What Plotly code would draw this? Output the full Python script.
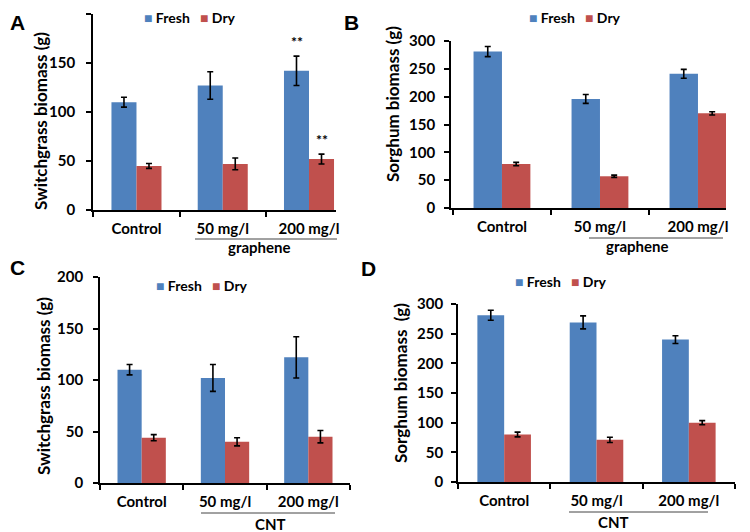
import plotly.graph_objects as go

# the page body adds an 8 px margin, so the figure is drawn 8 px in from
# the window corner; lay everything out in window pixels and convert.
OFF = 8
W, H = 750 - OFF, 532 - OFF

# ---------------- data ----------------
categories = ["Control", "50 mg/l", "200 mg/l"]
series_names = ["Fresh", "Dry"]

# A: switchgrass, graphene
a_fresh = [110, 127, 142]
a_fresh_err = [5, 14, 15]
a_dry = [45, 47, 52]
a_dry_err = [2.5, 6, 5]

# B: sorghum, graphene
b_fresh = [281, 196, 241]
b_fresh_err = [9, 8, 8]
b_dry = [79, 57, 170]
b_dry_err = [3, 2, 3]

# C: switchgrass, CNT
c_fresh = [110, 102, 122]
c_fresh_err = [5, 13, 20]
c_dry = [44, 40, 45]
c_dry_err = [3, 4, 6]

# D: sorghum, CNT
d_fresh = [281, 269, 240]
d_fresh_err = [8.5, 11, 6.5]
d_dry = [80, 71, 100]
d_dry_err = [4, 4.5, 3.5]

y_titles = ["Switchgrass biomass (g)", "Sorghum biomass (g)",
            "Switchgrass biomass (g)", "Sorghum biomass  (g)"]
group_labels = ["graphene", "graphene", "CNT", "CNT"]
panel_letters = ["A", "B", "C", "D"]
# ---------------------------------------

BLUE = "#4F81BD"
RED = "#C0504D"
FONT = "Lato"


def fx(px):
    return (px - OFF) / W


def fy(py):
    return 1 - (py - OFF) / H


# layout geometry for each panel (window pixels)
panels = [
    dict(fresh=a_fresh, fe=a_fresh_err, dry=a_dry, de=a_dry_err,
         xd=(93, 336), yd=(210, 14), xr=[-0.504, 2.313], ymax=200, stand=8,
         ytitle=(40, 121), letter=(8, 23), legend=(142, 17),
         uline=(195, 337, 239), glabel=(259, 247)),
    dict(fresh=b_fresh, fe=b_fresh_err, dry=b_dry, de=b_dry_err,
         xd=(451, 726), yd=(208, 41), xr=[-0.52, 2.286], ymax=300, stand=6,
         ytitle=(393, 104), letter=(342, 23), legend=(527, 17),
         uline=(589, 723, 238), glabel=(637, 246)),
    dict(fresh=c_fresh, fe=c_fresh_err, dry=c_dry, de=c_dry_err,
         xd=(100, 350), yd=(483, 277), xr=[-0.5, 2.5], ymax=200, stand=7,
         ytitle=(43, 386), letter=(8, 267), legend=(154, 285),
         uline=(201, 335, 513), glabel=(270, 524)),
    dict(fresh=d_fresh, fe=d_fresh_err, dry=d_dry, de=d_dry_err,
         xd=(458, 735), yd=(482, 304), xr=[-0.5, 2.5], ymax=300, stand=5,
         ytitle=(400, 383), letter=(359, 268), legend=(513, 281),
         uline=(569, 708, 512), glabel=(613, 522)),
]

fig = go.Figure()
annotations = []
shapes = []
layout_axes = {}

for i, p in enumerate(panels):
    n = "" if i == 0 else str(i + 1)
    xa, ya = "x" + n, "y" + n
    for name, vals, errs, col in [("Fresh", p["fresh"], p["fe"], BLUE),
                                  ("Dry", p["dry"], p["de"], RED)]:
        fig.add_trace(go.Bar(
            x=categories, y=vals, name=name, marker_color=col,
            marker_line_width=0, showlegend=False,
            error_y=dict(type="data", array=errs, color="black",
                         thickness=1.6, width=3),
            xaxis=xa, yaxis=ya, offsetgroup=name,
        ))

    layout_axes["xaxis" + n] = dict(
        domain=[fx(p["xd"][0]), fx(p["xd"][1])], anchor=ya,
        type="category", range=p["xr"], showline=True, linecolor="black",
        linewidth=1.6, ticks="outside", ticklen=5, tickwidth=1.5,
        tickcolor="black", tickson="boundaries", showgrid=False,
        zeroline=False, automargin=False, ticklabelstandoff=4,
        tickfont=dict(family=FONT, size=15, color="black", weight="bold"),
    )
    layout_axes["yaxis" + n] = dict(
        domain=[fy(p["yd"][0]), fy(p["yd"][1])], anchor=xa,
        range=[0, p["ymax"]], dtick=50, showline=True, linecolor="black",
        linewidth=1.6, ticks="outside", ticklen=5, tickwidth=1.5,
        tickcolor="black", showgrid=False, zeroline=False, automargin=False,
        ticklabelstandoff=p["stand"],
        tickfont=dict(family=FONT, size=15, color="black", weight="bold"),
    )

    # y-axis title
    annotations.append(dict(
        text=y_titles[i], x=fx(p["ytitle"][0]), y=fy(p["ytitle"][1]),
        xref="paper", yref="paper", showarrow=False, textangle=-90,
        xanchor="center", yanchor="middle",
        font=dict(family=FONT, size=17, color="black", weight="bold")))
    # panel letter
    annotations.append(dict(
        text=panel_letters[i], x=fx(p["letter"][0]), y=fy(p["letter"][1]),
        xref="paper", yref="paper", showarrow=False,
        xanchor="left", yanchor="middle",
        font=dict(family="Liberation Sans", size=21, color="black",
                  weight="bold")))
    # legend
    annotations.append(dict(
        text=(f"<span style='color:{BLUE}'>■</span> {series_names[0]}   "
              f"<span style='color:{RED}'>■</span> {series_names[1]}"),
        x=fx(p["legend"][0]), y=fy(p["legend"][1]),
        xref="paper", yref="paper", showarrow=False,
        xanchor="left", yanchor="middle",
        font=dict(family=FONT, size=14, color="black", weight="bold")))
    # group underline + label
    shapes.append(dict(
        type="line", xref="paper", yref="paper",
        x0=fx(p["uline"][0]), x1=fx(p["uline"][1]),
        y0=fy(p["uline"][2]), y1=fy(p["uline"][2]),
        line=dict(color="#444444", width=1)))
    annotations.append(dict(
        text=group_labels[i], x=fx(p["glabel"][0]), y=fy(p["glabel"][1]),
        xref="paper", yref="paper", showarrow=False,
        xanchor="center", yanchor="middle",
        font=dict(family=FONT, size=15, color="black", weight="bold")))

# significance marks on panel A (200 mg/l)
bar_half_px = 12.5
for vals, errs, shift in [(a_fresh, a_fresh_err, -bar_half_px),
                          (a_dry, a_dry_err, bar_half_px)]:
    annotations.append(dict(
        text="**", x=categories[2], y=vals[2] + errs[2], xref="x", yref="y",
        showarrow=False, xshift=shift, yshift=15, yanchor="middle",
        font=dict(family=FONT, size=14, color="black", weight="bold")))

fig.update_layout(
    template="none",
    width=W, height=H, margin=dict(l=0, r=0, t=0, b=0, pad=0),
    paper_bgcolor="white", plot_bgcolor="white",
    barmode="group", bargap=0.42, bargroupgap=0,
    annotations=annotations, shapes=shapes, showlegend=False,
    **layout_axes,
)

fig.write_html("out.html")
